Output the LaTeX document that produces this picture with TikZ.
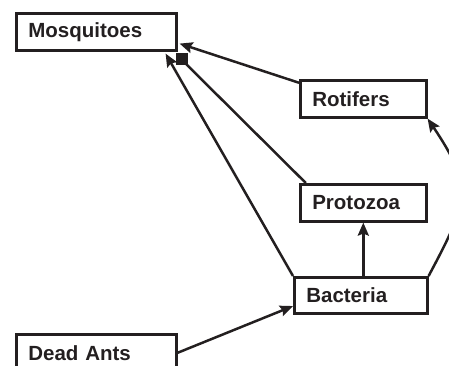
\documentclass[tikz,border=0pt]{standalone}
\usepackage{fontspec}
\setmainfont{Liberation Sans}
\usepackage{xcolor}
\usetikzlibrary{arrows.meta, calc}
\definecolor{inkblack}{RGB}{35,31,32}

\begin{document}
\begin{tikzpicture}[x=1pt, y=1pt,
        organism/.style={draw=inkblack, line width=2.6pt, anchor=north west,
            minimum height=37pt, inner xsep=12pt, inner ysep=0pt, align=left,
            text=inkblack, font=\fontsize{20.5}{24}\selectfont\bfseries},
        feeds/.style={draw=inkblack, line width=2.5pt,
            -{Stealth[length=13pt, width=11pt, inset=2pt]}}]
        \useasboundingbox (0,0) rectangle (449,366);
        \clip (0,0) rectangle (449,366);

        \node[organism, text width=136pt] (mosq) at (15,354) {Mosquitoes};
        \node[organism, text width=102pt] (rot) at (299,287) {Rotifers};
        \node[organism, text width=102pt] (prot) at (299,183) {Protozoa};
        \node[organism, text width=109pt, minimum height=36pt] (bact) at (293,90) {Bacteria};
        \node[organism, text width=136pt] (ants) at (15,33) {Dead Ants};

        \draw[feeds] (rot.166) -- ($(mosq.south east)+(2,8)$);
        \draw[feeds] (bact.north west) -- ($(mosq.south east)+(-12,-2)$);
        \coordinate (sq) at (183,305);
        \draw[draw=inkblack, line width=2.5pt] (prot.161) -- (sq);
        \fill[inkblack] ($(sq)+(-7,-4)$) rectangle +(12,12);
        \draw[feeds] (prot.south |- bact.north) -- (prot.south);
        \draw[feeds] (bact.north east) to[out=62, in=-56, looseness=1.35] (rot.south east);
        \draw[feeds] (ants.east) -- (bact.189);
\end{tikzpicture}
\end{document}
